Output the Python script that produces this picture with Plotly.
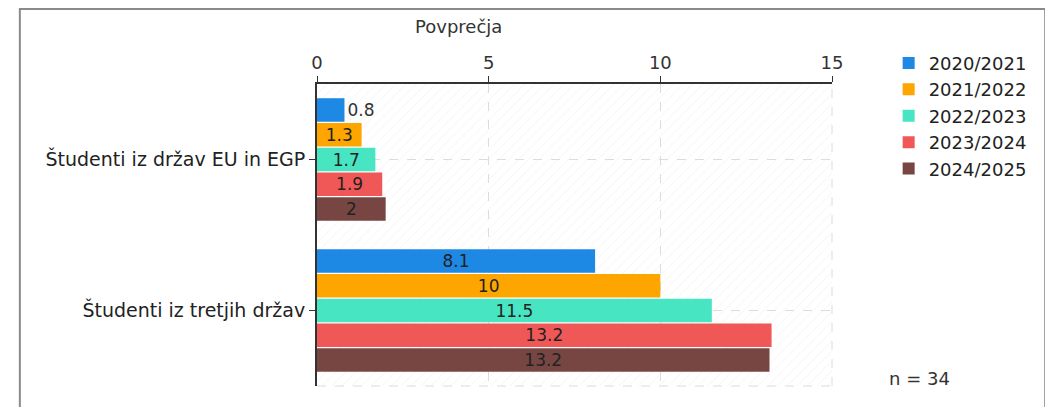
import plotly.graph_objects as go

categories = ["Študenti iz držav EU in EGP", "Študenti iz tretjih držav"]
years = ["2020/2021", "2021/2022", "2022/2023", "2023/2024", "2024/2025"]
values = [
    [0.8, 8.1],
    [1.3, 10.0],
    [1.7, 11.5],
    [1.9, 13.24],
    [2.0, 13.18],
]
colors = ["#1E88E5", "#FFA500", "#48E5C2", "#F05858", "#774643"]
n_label = "n = 34"

FONT = "DejaVu Sans"

fig = go.Figure()

# hatched plot background (drawn on the base axes, under the data)
fig.add_trace(go.Bar(
    x=[1], y=[0], base=0, width=1, orientation="h",
    marker=dict(color="rgba(0,0,0,0)", line=dict(width=0),
                pattern=dict(shape="/", fgcolor="#e4e4e4", bgcolor="rgba(0,0,0,0)",
                             size=7, solidity=0.12)),
    hoverinfo="skip", showlegend=False, xaxis="x", yaxis="y",
))

for yr, vals, col in zip(years, values, colors):
    labels = [f"{round(v, 1):g}" for v in vals]
    fig.add_trace(go.Bar(
        name=yr, y=categories, x=vals, orientation="h",
        marker=dict(color=col, line=dict(width=0)),
        text=labels,
        textposition=["outside" if v < 1 else "inside" for v in vals],
        insidetextanchor="middle", textangle=0,
        textfont=dict(family=FONT, size=17, color="#222"),
        outsidetextfont=dict(family=FONT, size=17, color="#333"),
        cliponaxis=False,
        xaxis="x2", yaxis="y2",
    ))

# the page body has an 8px margin, so the figure is 8px smaller each way
fig.update_layout(
    width=1045, height=399,
    margin=dict(l=309, r=221, t=76, b=21),
    paper_bgcolor="white", plot_bgcolor="white",
    font=dict(family=FONT, size=18, color="#333"),
    barmode="group", bargap=0.18, bargroupgap=0.05,
    uniformtext=dict(mode="show", minsize=17),
    xaxis=dict(range=[0, 1], visible=False, fixedrange=True),
    yaxis=dict(range=[-0.5, 0.5], visible=False, fixedrange=True),
    xaxis2=dict(overlaying="x", anchor="y2", side="top", range=[0, 15],
                tickvals=[0, 5, 10, 15], ticks="outside", ticklen=6,
                tickcolor="#333", showline=True, linecolor="#333", linewidth=2,
                showgrid=True, gridcolor="#dcdcdc", griddash="dash", gridwidth=1,
                zeroline=False, tickfont=dict(family=FONT, size=18, color="#333")),
    yaxis2=dict(overlaying="y", anchor="x2", autorange="reversed",
                ticks="outside", ticklen=6, tickcolor="#333",
                showline=True, linecolor="#333", linewidth=2,
                showgrid=True, gridcolor="#dcdcdc", griddash="dash",
                tickfont=dict(family=FONT, size=19, color="#222")),
    legend=dict(x=1.11, y=1.13, xanchor="left", yanchor="top",
                font=dict(family=FONT, size=18, color="#222"),
                tracegroupgap=0, itemwidth=30, bgcolor="rgba(0,0,0,0)"),
    showlegend=True,
)

# dashed border on the right and bottom of the plot area
fig.add_shape(type="line", xref="paper", yref="paper", x0=1, x1=1, y0=0, y1=1,
              line=dict(color="#dcdcdc", width=1, dash="dash"), layer="below")
fig.add_shape(type="line", xref="paper", yref="paper", x0=0, x1=1, y0=0, y1=0,
              line=dict(color="#dcdcdc", width=1, dash="dash"), layer="below")

# outer frame
fig.add_shape(type="rect", xref="paper", yref="paper",
              x0=-0.577, x1=1.414, y0=-0.2, y1=1.248,
              line=dict(color="#8a8a8a", width=2))

fig.add_annotation(text="Povprečja", xref="paper", yref="paper",
                   x=0.275, y=1.189, xanchor="center", yanchor="middle",
                   showarrow=False,
                   font=dict(family=FONT, size=18, color="#333"))
fig.add_annotation(text=n_label, xref="paper", yref="paper",
                   x=1.17, y=0.026, xanchor="center", yanchor="middle",
                   showarrow=False,
                   font=dict(family=FONT, size=18, color="#333"))

fig.write_html("out.html")
